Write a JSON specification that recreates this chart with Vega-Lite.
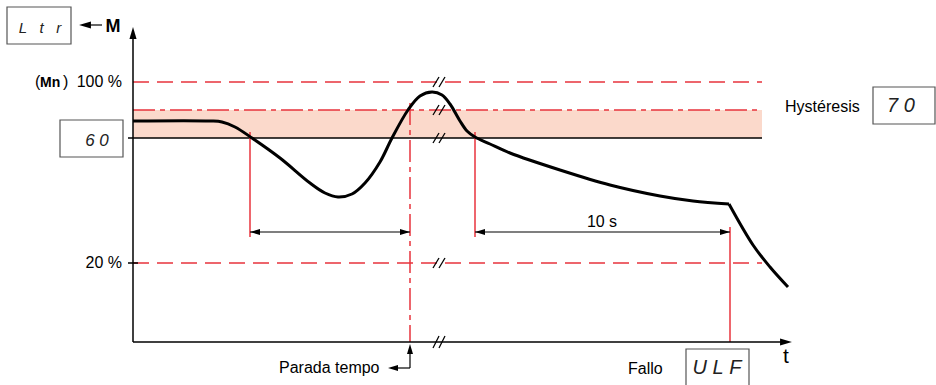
{
  "$schema": "https://vega.github.io/schema/vega-lite/v6.json",
  "width": 936,
  "height": 385,
  "padding": 0,
  "autosize": {"type": "none"},
  "background": "white",
  "config": {"view": {"stroke": null}, "font": "Liberation Sans"},
  "encoding": {
    "x": {"field": "x", "type": "quantitative", "scale": {"domain": [0, 936], "nice": false, "zero": false}, "axis": null},
    "y": {"field": "y", "type": "quantitative", "scale": {"domain": [0, 385], "nice": false, "zero": false, "reverse": true}, "axis": null}
  },
  "layer": [
    {
      "data": {"values": [{"x": 133, "x2": 762, "y": 110, "y2": 138}]},
      "mark": {"type": "rect", "fill": "#fbd9cb"},
      "encoding": {"x2": {"field": "x2"}, "y2": {"field": "y2"}}
    },
    {
      "data": {"values": [{"x": 133, "x2": 762, "y": 138, "y2": 138}]},
      "mark": {"type": "rule", "color": "#000", "strokeWidth": 1.5},
      "encoding": {"x2": {"field": "x2"}, "y2": {"field": "y2"}}
    },
    {
      "data": {"values": [{"x": 133, "x2": 762, "y": 82, "y2": 82}, {"x": 133, "x2": 762, "y": 263, "y2": 263}]},
      "mark": {"type": "rule", "color": "#e8333c", "strokeWidth": 1.5, "strokeDash": [16, 8]},
      "encoding": {"x2": {"field": "x2"}, "y2": {"field": "y2"}}
    },
    {
      "data": {"values": [{"x": 133, "x2": 762, "y": 110, "y2": 110}, {"x": 410, "x2": 410, "y": 103, "y2": 342}]},
      "mark": {"type": "rule", "color": "#e8333c", "strokeWidth": 1.5, "strokeDash": [22, 5, 5, 5]},
      "encoding": {"x2": {"field": "x2"}, "y2": {"field": "y2"}}
    },
    {
      "data": {"values": [{"x": 250, "x2": 250, "y": 132, "y2": 237}, {"x": 475, "x2": 475, "y": 132, "y2": 237}, {"x": 730, "x2": 730, "y": 227, "y2": 342}]},
      "mark": {"type": "rule", "color": "#e8333c", "strokeWidth": 1.5},
      "encoding": {"x2": {"field": "x2"}, "y2": {"field": "y2"}}
    },
    {
      "data": {"values": [
        {"x": 133, "x2": 133, "y": 342, "y2": 34},
        {"x": 133, "x2": 784, "y": 342, "y2": 342},
        {"x": 128, "x2": 133, "y": 138, "y2": 138},
        {"x": 128, "x2": 138, "y": 263, "y2": 263}
      ]},
      "mark": {"type": "rule", "color": "#000", "strokeWidth": 1.5},
      "encoding": {"x2": {"field": "x2"}, "y2": {"field": "y2"}}
    },
    {
      "data": {"values": [
        {"x": 250, "x2": 410, "y": 232, "y2": 232},
        {"x": 475, "x2": 730, "y": 232, "y2": 232},
        {"x": 84, "x2": 102, "y": 25, "y2": 25},
        {"x": 410, "x2": 410, "y": 350, "y2": 368},
        {"x": 392, "x2": 410, "y": 368, "y2": 368}
      ]},
      "mark": {"type": "rule", "color": "#000", "strokeWidth": 1.2},
      "encoding": {"x2": {"field": "x2"}, "y2": {"field": "y2"}}
    },
    {
      "data": {"values": [
        {"seg": "a", "x": 133, "y": 121}, {"seg": "a", "x": 210, "y": 121}, {"seg": "a", "x": 222, "y": 122},
        {"seg": "a", "x": 235, "y": 127}, {"seg": "a", "x": 252, "y": 138}, {"seg": "a", "x": 280, "y": 158},
        {"seg": "a", "x": 310, "y": 183}, {"seg": "a", "x": 325, "y": 193}, {"seg": "a", "x": 338, "y": 197},
        {"seg": "a", "x": 352, "y": 194}, {"seg": "a", "x": 365, "y": 183}, {"seg": "a", "x": 380, "y": 162},
        {"seg": "a", "x": 392, "y": 138}, {"seg": "a", "x": 408, "y": 110}, {"seg": "a", "x": 420, "y": 96},
        {"seg": "a", "x": 432, "y": 92}, {"seg": "a", "x": 442, "y": 95}, {"seg": "a", "x": 450, "y": 104},
        {"seg": "a", "x": 460, "y": 121}, {"seg": "a", "x": 467, "y": 131}, {"seg": "a", "x": 475, "y": 137},
        {"seg": "a", "x": 490, "y": 144}, {"seg": "a", "x": 510, "y": 153}, {"seg": "a", "x": 560, "y": 170},
        {"seg": "a", "x": 610, "y": 185}, {"seg": "a", "x": 660, "y": 196}, {"seg": "a", "x": 693, "y": 201},
        {"seg": "a", "x": 729, "y": 204},
        {"seg": "b", "x": 729, "y": 204}, {"seg": "b", "x": 753, "y": 245}, {"seg": "b", "x": 770, "y": 267},
        {"seg": "b", "x": 788, "y": 287}
      ]},
      "mark": {"type": "line", "color": "#000", "strokeWidth": 3, "interpolate": "catmull-rom"},
      "encoding": {"detail": {"field": "seg"}}
    },
    {
      "data": {"values": [
        {"x": 433, "x2": 439, "y": 87, "y2": 77}, {"x": 439, "x2": 445, "y": 87, "y2": 77},
        {"x": 433, "x2": 439, "y": 115, "y2": 105}, {"x": 439, "x2": 445, "y": 115, "y2": 105},
        {"x": 433, "x2": 439, "y": 143, "y2": 133}, {"x": 439, "x2": 445, "y": 143, "y2": 133},
        {"x": 433, "x2": 439, "y": 268, "y2": 258}, {"x": 439, "x2": 445, "y": 268, "y2": 258},
        {"x": 433, "x2": 439, "y": 348, "y2": 336}, {"x": 439, "x2": 445, "y": 348, "y2": 336}
      ]},
      "mark": {"type": "rule", "color": "#000", "strokeWidth": 1.3},
      "encoding": {"x2": {"field": "x2"}, "y2": {"field": "y2"}}
    },
    {
      "data": {"values": [
        {"x": 255, "y": 232, "d": "left"}, {"x": 405, "y": 232, "d": "right"},
        {"x": 480, "y": 232, "d": "left"}, {"x": 725, "y": 232, "d": "right"},
        {"x": 410, "y": 349, "d": "up"}, {"x": 393, "y": 368, "d": "left"}
      ]},
      "mark": {"type": "point", "filled": true, "color": "#000", "opacity": 1, "size": 100},
      "encoding": {"shape": {"field": "d", "type": "nominal", "scale": {"domain": ["left", "right", "up"], "range": ["M-1,0L1,-0.6L1,0.6Z", "M1,0L-1,-0.6L-1,0.6Z", "M0,-1L-0.6,1L0.6,1Z"]}, "legend": null}}
    },
    {
      "data": {"values": [
        {"x": 786, "y": 342, "d": "right"}, {"x": 133, "y": 33, "d": "up"}, {"x": 85, "y": 25, "d": "left"}
      ]},
      "mark": {"type": "point", "filled": true, "color": "#000", "opacity": 1, "size": 140},
      "encoding": {"shape": {"field": "d", "type": "nominal", "legend": null}}
    },
    {
      "data": {"values": [
        {"x": 7, "x2": 71, "y": 7, "y2": 44},
        {"x": 60, "x2": 123, "y": 120, "y2": 157},
        {"x": 873, "x2": 935, "y": 87, "y2": 124},
        {"x": 686, "x2": 749, "y": 349, "y2": 392}
      ]},
      "mark": {"type": "rect", "fill": "white", "stroke": "#555", "strokeWidth": 1.2},
      "encoding": {"x2": {"field": "x2"}, "y2": {"field": "y2"}}
    },
    {
      "data": {"values": [
        {"x": 785, "y": 107, "t": "Hystéresis"},
        {"x": 279, "y": 368, "t": "Parada tempo"},
        {"x": 628, "y": 369, "t": "Fallo"},
        {"x": 35, "y": 82, "t": "("},
        {"x": 63, "y": 82, "t": ")"}
      ]},
      "mark": {"type": "text", "align": "left", "baseline": "middle", "fontSize": 16, "color": "#000"},
      "encoding": {"text": {"field": "t"}}
    },
    {
      "data": {"values": [
        {"x": 122, "y": 82, "t": "100 %"},
        {"x": 122, "y": 263, "t": "20 %"}
      ]},
      "mark": {"type": "text", "align": "right", "baseline": "middle", "fontSize": 16, "color": "#000"},
      "encoding": {"text": {"field": "t"}}
    },
    {
      "data": {"values": [{"x": 602, "y": 222, "t": "10 s"}]},
      "mark": {"type": "text", "align": "center", "baseline": "middle", "fontSize": 16, "color": "#000"},
      "encoding": {"text": {"field": "t"}}
    },
    {
      "data": {"values": [{"x": 40, "y": 83, "t": "Mn"}]},
      "mark": {"type": "text", "align": "left", "baseline": "middle", "fontSize": 14, "fontWeight": "bold", "color": "#000"},
      "encoding": {"text": {"field": "t"}}
    },
    {
      "data": {"values": [{"x": 113, "y": 27, "t": "M"}]},
      "mark": {"type": "text", "align": "center", "baseline": "middle", "fontSize": 18, "fontWeight": "bold", "color": "#000"},
      "encoding": {"text": {"field": "t"}}
    },
    {
      "data": {"values": [{"x": 786, "y": 357, "t": "t"}]},
      "mark": {"type": "text", "align": "center", "baseline": "middle", "fontSize": 21, "color": "#000"},
      "encoding": {"text": {"field": "t"}}
    },
    {
      "data": {"values": [{"x": 40, "y": 28, "t": "L\u00a0\u00a0\u00a0t\u00a0\u00a0\u00a0r"}]},
      "mark": {"type": "text", "align": "center", "baseline": "middle", "fontSize": 15, "fontStyle": "italic", "color": "#222"},
      "encoding": {"text": {"field": "t"}}
    },
    {
      "data": {"values": [{"x": 97, "y": 141, "t": "6\u00a00"}]},
      "mark": {"type": "text", "align": "center", "baseline": "middle", "fontSize": 17, "fontStyle": "italic", "color": "#222"},
      "encoding": {"text": {"field": "t"}}
    },
    {
      "data": {"values": [{"x": 901, "y": 106, "t": "7\u00a00"}, {"x": 717, "y": 368, "t": "U\u00a0L\u00a0F"}]},
      "mark": {"type": "text", "align": "center", "baseline": "middle", "fontSize": 20, "fontStyle": "italic", "color": "#222"},
      "encoding": {"text": {"field": "t"}}
    }
  ]
}
